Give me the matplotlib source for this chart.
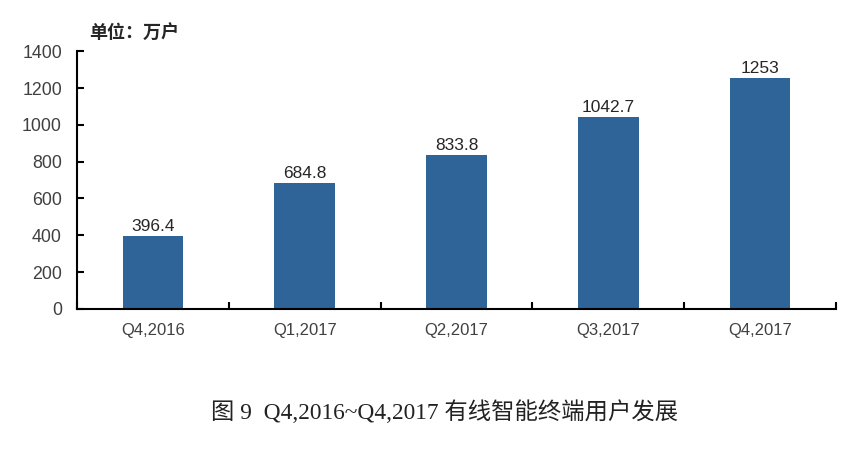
import matplotlib
matplotlib.use('Agg')
import matplotlib.pyplot as plt
import numpy as np

plt.rcParams['font.family'] = ['Liberation Sans', 'Noto Sans CJK SC']

quarters = ['Q4,2016', 'Q1,2017', 'Q2,2017', 'Q3,2017', 'Q4,2017']
users = [396.4, 684.8, 833.8, 1042.7, 1253]
value_labels = ['396.4', '684.8', '833.8', '1042.7', '1253']

fig = plt.figure(figsize=(8.67, 4.49), dpi=100)
ax = fig.add_axes([0.089, 0.312, 0.875, 0.574])

x = np.arange(len(quarters))
ax.bar(x, users, width=0.4, color='#2E6497')
for xi, v, s in zip(x, users, value_labels):
    ax.text(xi, v + 12, s, ha='center', va='bottom', fontsize=12.5, color='#262626')

ax.set_xlim(-0.5, len(quarters) - 0.5)
ax.set_ylim(0, 1400)
ax.set_yticks(range(0, 1401, 200))
ax.set_xticks(x)
ax.set_xticklabels(quarters)
ax.set_xticks(np.arange(-0.5, len(quarters)), minor=True)

ax.tick_params(axis='y', direction='in', length=5, width=1.5, labelsize=12.8,
               labelcolor='#404040', pad=11)
ax.tick_params(axis='x', which='major', length=0, labelsize=12,
               labelcolor='#404040', pad=10)
ax.tick_params(axis='x', which='minor', direction='in', length=5, width=1.5)

for side in ['top', 'right']:
    ax.spines[side].set_visible(False)
for side in ['left', 'bottom']:
    ax.spines[side].set_linewidth(1.5)

fig.text(0.103, 0.915, '单位：万户', fontsize=13, fontweight='bold', color='#262626')
fig.text(0.513, 0.066, '图 9  Q4,2016~Q4,2017 有线智能终端用户发展', ha='center',
         fontsize=16.8, color='#222222', family=['Liberation Serif', 'Noto Sans CJK SC'])

fig.savefig('out.png', dpi=100, facecolor='white')
